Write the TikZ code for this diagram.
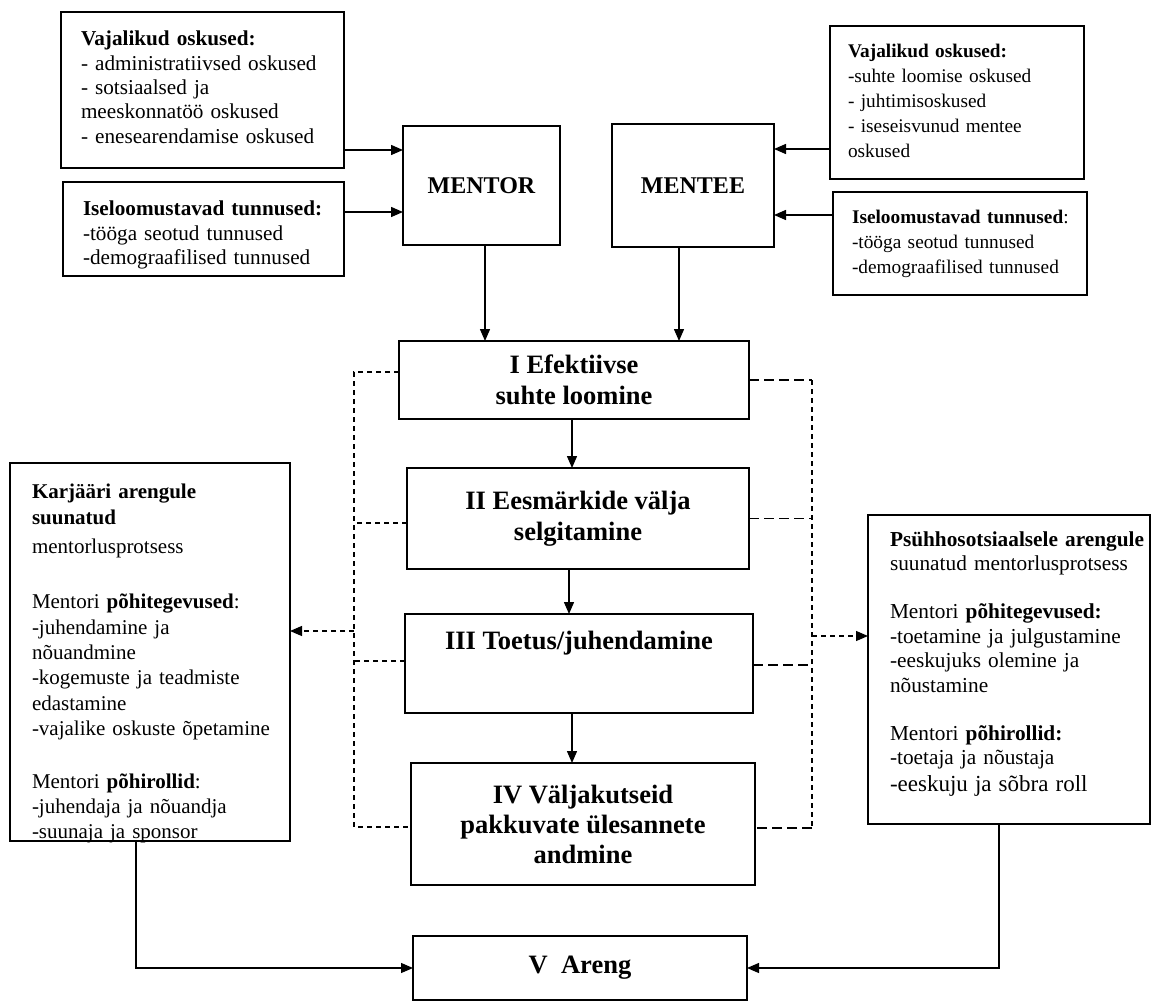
\documentclass[tikz,border=0pt]{standalone}
\usepackage{fontspec}
\setmainfont{Liberation Serif}
\usetikzlibrary{arrows.meta}

\begin{document}
\begin{tikzpicture}[x=1pt, y=-1pt,
    every node/.style={inner sep=0pt, outer sep=0pt},
    box/.style={draw, line width=1.6pt, rectangle, align=left, inner xsep=20pt},
    normtxt/.style={font=\fontsize{21.2}{24.3}\selectfont},
    smalltxt/.style={font=\fontsize{19.3}{24.8}\selectfont},
    actor/.style={draw, line width=1.6pt, font=\fontsize{24}{29}\selectfont\bfseries},
    stage/.style={draw, line width=1.6pt, align=center, font=\fontsize{26.5}{31}\selectfont\bfseries},
    conn/.style={line width=1.4pt, -{Triangle[length=12pt,width=10pt]}},
    dshort/.style={line width=1.2pt, dash pattern=on 5pt off 4pt},
    dlong/.style={line width=1.2pt, dash pattern=on 10pt off 5pt}]

    \useasboundingbox (0,0) rectangle (1157,1003);

    % Nodes
    \node at (202.5,90) (skillsL) [box, normtxt, text width=243pt, minimum height=156pt, text height=34pt, text depth=122pt]
        {\textbf{Vajalikud oskused:}\\\mbox{- administratiivsed oskused}\\- sotsiaalsed ja\\meeskonnatöö oskused\\\mbox{- enesearendamise oskused}};
    \node at (203.5,229) (traitsL) [box, normtxt, text width=241pt, minimum height=94pt, text height=34pt, text depth=60pt]
        {\mbox{\textbf{Iseloomustavad tunnused:}}\\-tööga seotud tunnused\\\mbox{-demograafilised tunnused}};
    \node at (481.5,185.5) (mentor) [actor, minimum width=157pt, minimum height=119pt] {MENTOR};
    \node at (693,185.5) (mentee) [actor, minimum width=162pt, minimum height=123pt] {MENTEE};
    \node at (957,102.5) (skillsR) [box, smalltxt, inner xsep=18pt, text width=218pt, minimum height=153pt, text height=32pt, text depth=121pt]
        {\textbf{Vajalikud oskused:}\\-suhte loomise oskused\\- juhtimisoskused\\\mbox{- iseseisvunud mentee}\\oskused};
    \node at (960,243.5) (traitsR) [box, smalltxt, inner xsep=19pt, text width=216pt, minimum height=103pt, text height=32pt, text depth=71pt]
        {\mbox{\textbf{Iseloomustavad tunnused}:}\\-tööga seotud tunnused\\\mbox{-demograafilised tunnused}};

    \node at (574,380) (s1) [stage, minimum width=350pt, minimum height=78pt] {I Efektiivse\\suhte loomine};
    \node at (578,518.5) (s2) [stage, minimum width=342pt, minimum height=101pt] {II Eesmärkide välja\\selgitamine};
    \node at (579,663.5) (s3) [stage, minimum width=348pt, minimum height=99pt] {III Toetus/juhendamine\\[15pt]\mbox{}};
    \node at (583,824) (s4) [stage, minimum width=344pt, minimum height=122pt, font=\fontsize{26.5}{30}\selectfont\bfseries]
        {IV Väljakutseid\\pakkuvate ülesannete\\andmine};
    \node at (580,968) (areng) [stage, minimum width=334pt, minimum height=64pt] {V\ \ Areng};

    \node at (150,652) (career) [box, inner xsep=22pt, text width=236pt, minimum height=378pt, text height=35pt, text depth=343pt,
        font=\fontsize{21}{25.3}\selectfont]
        {\textbf{Karjääri arengule}\\[1.5pt]\textbf{suunatud}\\[3.7pt]mentorlusprotsess\\[29.7pt]
         \mbox{Mentori \textbf{põhitegevused}:}\\-juhendamine ja\\nõuandmine\\\mbox{-kogemuste ja teadmiste}\\edastamine\\\mbox{-vajalike oskuste õpetamine}\\[27.7pt]
         Mentori \textbf{põhirollid}:\\\mbox{-juhendaja ja nõuandja}\\-suunaja ja sponsor};
    \node at (1009,669.5) (psycho) [box, inner xsep=22pt, text width=238pt, minimum height=309pt, text height=31pt, text depth=278pt,
        font=\fontsize{21.3}{24.5}\selectfont]
        {\mbox{\textbf{Psühhosotsiaalsele arengule}}\\\mbox{suunatud mentorlusprotsess}\\[23.5pt]
         \mbox{Mentori \textbf{põhitegevused:}}\\\mbox{-toetamine ja julgustamine}\\-eeskujuks olemine ja\\nõustamine\\[23.5pt]
         Mentori \textbf{põhirollid:}\\-toetaja ja nõustaja\\[2.5pt]{\fontsize{23}{24}\selectfont -eeskuju ja sõbra roll}};

    \coordinate (lt) at (354,372);
    \coordinate (lb) at (354,827);
    \coordinate (rt) at (812,380);
    \coordinate (rb) at (812,828);
    \coordinate (lmid) at (354,631);
    \coordinate (rmid) at (812,636);

    % Arrows
    \draw[conn] ([yshift=18pt]skillsL.south east) -- ([yshift=18pt]skillsL.south east -| mentor.west);
    \draw[conn] ([yshift=17pt]traitsL.east) -- ([yshift=17pt]traitsL.east -| mentor.west);
    \draw[conn] ([yshift=-46.5pt]skillsR.west) -- ([yshift=-46.5pt]skillsR.west -| mentee.east);
    \draw[conn] ([yshift=28.5pt]traitsR.west) -- ([yshift=28.5pt]traitsR.west -| mentee.east);
    \draw[conn] ([xshift=3.5pt]mentor.south) -- ([xshift=3.5pt]mentor.south |- s1.north);
    \draw[conn] ([xshift=-14pt]mentee.south) -- ([xshift=-14pt]mentee.south |- s1.north);
    \draw[conn] ([xshift=-2pt]s1.south) -- ([xshift=-2pt]s1.south |- s2.north);
    \draw[conn] ([xshift=-9pt]s2.south) -- ([xshift=-9pt]s2.south |- s3.north);
    \draw[conn] ([xshift=-7pt]s3.south) -- ([xshift=-7pt]s3.south |- s4.north);
    \draw[conn, line width=1.2pt] ([xshift=-14pt]career.south) |- (areng.west);
    \draw[conn, line width=1.2pt] ([xshift=-10pt]psycho.south) |- (areng.east);

    % Dashed brackets
    \draw[dshort] ([yshift=8pt]s1.west) -- (lt) -- (lb) -- (lb -| s4.west);
    \draw[dshort] ([yshift=-4.5pt]s2.west) -- ([yshift=-4.5pt]s2.west -| lt);
    \draw[dshort] ([yshift=2.5pt]s3.west) -- ([yshift=2.5pt]s3.west -| lt);
    \draw[dlong] (s1.east) -- (rt);
    \draw[dshort] (rt) -- (rb);
    \draw[dlong] (rb) -- (rb -| s4.east);
    \draw[dlong] (s2.east) -- (s2.east -| rt);
    \draw[dlong] ([yshift=-1.5pt]s3.east) -- ([yshift=-1.5pt]s3.east -| rt);
    \draw[dshort, -{Triangle[length=12pt,width=10pt]}] (lmid) -- (lmid -| career.east);
    \draw[dshort, -{Triangle[length=12pt,width=10pt]}] (rmid) -- (rmid -| psycho.west);

\end{tikzpicture}
\end{document}
